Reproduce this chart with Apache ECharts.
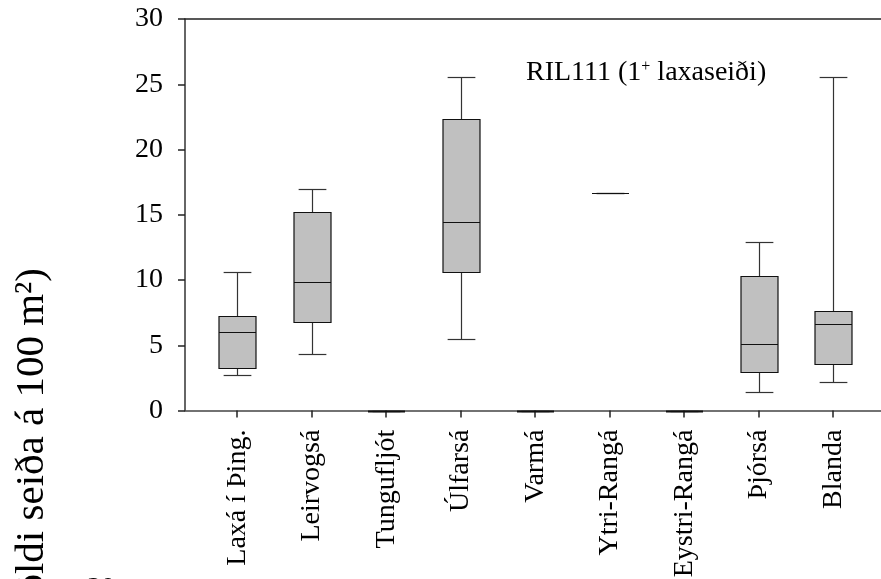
<!DOCTYPE html>
<html>
<head>
<meta charset="utf-8">
<script src="https://cdn.jsdelivr.net/npm/echarts@6/dist/echarts.min.js"></script>
<style>html,body{margin:0;padding:0;background:#fff}#c{width:881px;height:579px}</style>
</head>
<body>
<div id="c"></div>
<script>
var categories = ['Laxá í Þing.', 'Leirvogsá', 'Tungufljót', 'Úlfarsá', 'Varmá', 'Ytri-Rangá', 'Eystri-Rangá', 'Þjórsá', 'Blanda'];
var whiskerLow  = [2.73, 4.36, 0, 5.49, 0, 16.69, 0, 1.45, 2.17];
var quartile1   = [3.26, 6.81, 0, 10.64, 0, 16.69, 0, 2.93, 3.57];
var medians     = [6.0, 9.83, 0, 14.42, 0, 16.69, 0, 5.13, 6.66];
var quartile3   = [7.27, 15.24, 0, 22.34, 0, 16.69, 0, 10.34, 7.63];
var whiskerHigh = [10.64, 16.95, 0, 25.56, 0, 16.69, 0, 12.94, 25.56];
var yTicks = [0, 5, 10, 15, 20, 25, 30];
var annotation = 'RIL111 (1{sup|+} laxaseiði)';
var yTitle = 'Þéttleiki (fjöldi seiða á 100 m²)';

var FONT = 'Liberation Serif';
var chart = echarts.init(document.getElementById('c'), null, {renderer: 'canvas'});

var seriesData = categories.map(function (c, i) {
  return [i, whiskerLow[i], quartile1[i], medians[i], quartile3[i], whiskerHigh[i]];
});
var catIdx = categories.map(function (c, i) { return i; });

function ln(x1, y1, x2, y2, color, w) {
  return {type: 'line', shape: {x1: x1, y1: y1, x2: x2, y2: y2}, style: {stroke: color, lineWidth: w}};
}

chart.setOption({
  animation: false,
  backgroundColor: '#fff',
  grid: {left: 185, top: 19, right: -4.3, bottom: 168.4, containLabel: false, outerBoundsMode: 'none'},
  xAxis: [{
    type: 'value', min: -0.7, max: 8.7,
    axisLine: {show: true, onZero: false, lineStyle: {color: '#444', width: 1.5}},
    axisTick: {show: true, customValues: catIdx, length: 7, lineStyle: {color: '#222', width: 1.5}},
    axisLabel: {show: true, customValues: catIdx, rotate: 90, margin: 19,
      formatter: function (v) { return categories[Math.round(v)] || ''; },
      fontFamily: FONT, fontSize: 28, color: '#000'},
    splitLine: {show: false}
  }, {
    type: 'value', min: -0.7, max: 8.7, position: 'top',
    axisLine: {show: true, onZero: false, lineStyle: {color: '#222', width: 1.5}},
    axisTick: {show: false}, axisLabel: {show: false}, splitLine: {show: false}
  }],
  yAxis: {
    type: 'value', min: 0, max: 30, interval: 5,
    axisLine: {show: true, onZero: false, lineStyle: {color: '#333', width: 1.5}},
    axisTick: {show: true, length: 7, lineStyle: {color: '#222', width: 1.5}},
    axisLabel: {margin: 22, fontFamily: FONT, fontSize: 28, color: '#000',
      formatter: function (v) { return yTicks.indexOf(v) >= 0 ? String(v) : ''; }},
    splitLine: {show: false}
  },
  graphic: [{
    type: 'text', x: 526, y: 73,
    style: {
      text: annotation, x: 0, y: 0, verticalAlign: 'middle', align: 'left',
      fontFamily: FONT, fontSize: 28, fill: '#000',
      rich: {sup: {fontSize: 16, fontFamily: FONT, verticalAlign: 'top', lineHeight: 12, fill: '#000'}}
    }
  }, {
    type: 'text', x: 32, y: 268, rotation: Math.PI / 2,
    style: {text: yTitle, x: 0, y: 0, align: 'right', verticalAlign: 'middle', fontFamily: FONT, fontSize: 41, fill: '#000'}
  }, {
    type: 'text', x: 101, y: 589,
    style: {text: '30', x: 0, y: 0, align: 'center', verticalAlign: 'middle', fontFamily: FONT, fontSize: 28, fill: '#000'}
  }],
  series: [{
    type: 'custom',
    clip: false,
    encode: {x: 0, y: [1, 2, 3, 4, 5]},
    data: seriesData,
    renderItem: function (params, api) {
      var x = api.value(0);
      var bw = api.size([1, 0])[0];
      var half = bw * 0.25, capHalf = bw * 0.186;
      var pLo = api.coord([x, api.value(1)]);
      var pQ1 = api.coord([x, api.value(2)]);
      var pMed = api.coord([x, api.value(3)]);
      var pQ3 = api.coord([x, api.value(4)]);
      var pHi = api.coord([x, api.value(5)]);
      var cx = Math.round(pLo[0]) + 0.5;
      var r = function (v) { return Math.round(v) + 0.5; };
      var flat = api.value(5) === 0;
      return {
        type: 'group',
        children: [
          ln(cx, r(pHi[1]), cx, r(pQ3[1]), '#333', 1.2),
          ln(cx, r(pQ1[1]), cx, r(pLo[1]), '#333', 1.2),
          ln(cx - capHalf, r(pHi[1]), cx + capHalf, r(pHi[1]), '#333', 1.2),
          ln(cx - capHalf, r(pLo[1]), cx + capHalf, r(pLo[1]), '#333', 1.2),
          {type: 'rect', shape: {x: Math.round(cx - half), y: r(pQ3[1]), width: Math.round(2 * half), height: r(pQ1[1]) - r(pQ3[1])},
           style: {fill: '#c0c0c0', stroke: '#111', lineWidth: 1.2}},
          ln(Math.round(cx - half), r(pMed[1]), Math.round(cx - half) + Math.round(2 * half), r(pMed[1]), '#111', flat ? 2 : 1.2)
        ]
      };
    }
  }]
});
</script>
</body>
</html>
